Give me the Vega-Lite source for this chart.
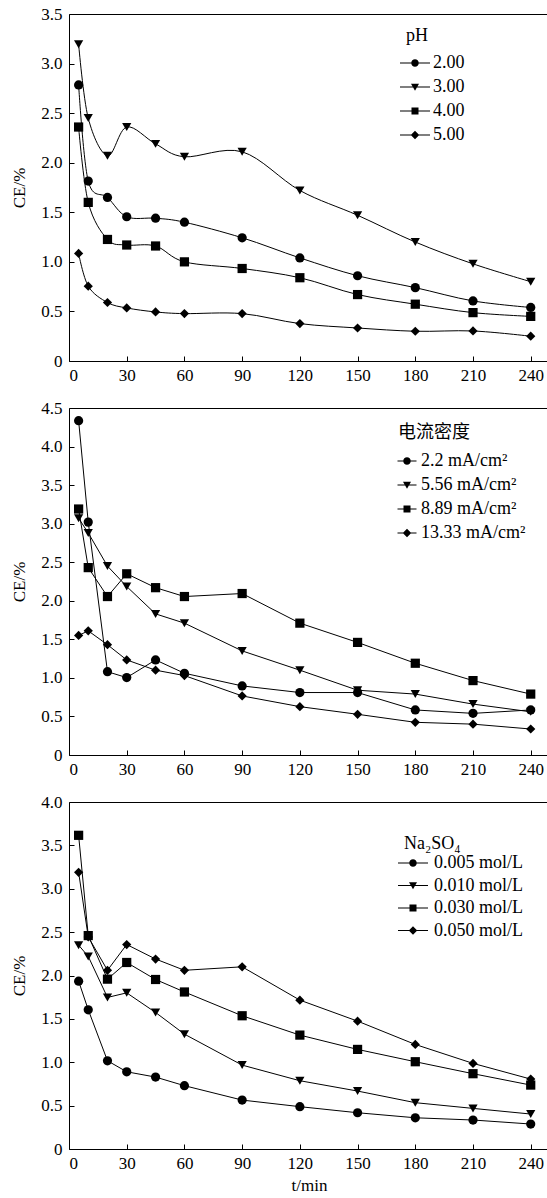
{
  "$schema": "https://vega.github.io/schema/vega-lite/v6.json",
  "padding": {"top": 4, "left": 10, "right": 0, "bottom": 0},
  "spacing": 47,
  "bounds": "flush",
  "resolve": {"scale": {"shape": "independent"}, "legend": {"shape": "independent"}},
  "datasets": {
    "p1": [
      {"t":5,"ce":2.785,"s":"2.00"},{"t":10,"ce":1.815,"s":"2.00"},{"t":20,"ce":1.65,"s":"2.00"},{"t":30,"ce":1.455,"s":"2.00"},{"t":45,"ce":1.44,"s":"2.00"},{"t":60,"ce":1.40,"s":"2.00"},{"t":90,"ce":1.243,"s":"2.00"},{"t":120,"ce":1.04,"s":"2.00"},{"t":150,"ce":0.86,"s":"2.00"},{"t":180,"ce":0.74,"s":"2.00"},{"t":210,"ce":0.606,"s":"2.00"},{"t":240,"ce":0.54,"s":"2.00"},
      {"t":5,"ce":3.196,"s":"3.00"},{"t":10,"ce":2.45,"s":"3.00"},{"t":20,"ce":2.07,"s":"3.00"},{"t":30,"ce":2.36,"s":"3.00"},{"t":45,"ce":2.19,"s":"3.00"},{"t":60,"ce":2.06,"s":"3.00"},{"t":90,"ce":2.11,"s":"3.00"},{"t":120,"ce":1.72,"s":"3.00"},{"t":150,"ce":1.47,"s":"3.00"},{"t":180,"ce":1.20,"s":"3.00"},{"t":210,"ce":0.98,"s":"3.00"},{"t":240,"ce":0.80,"s":"3.00"},
      {"t":5,"ce":2.36,"s":"4.00"},{"t":10,"ce":1.60,"s":"4.00"},{"t":20,"ce":1.226,"s":"4.00"},{"t":30,"ce":1.17,"s":"4.00"},{"t":45,"ce":1.16,"s":"4.00"},{"t":60,"ce":1.00,"s":"4.00"},{"t":90,"ce":0.933,"s":"4.00"},{"t":120,"ce":0.84,"s":"4.00"},{"t":150,"ce":0.67,"s":"4.00"},{"t":180,"ce":0.573,"s":"4.00"},{"t":210,"ce":0.488,"s":"4.00"},{"t":240,"ce":0.45,"s":"4.00"},
      {"t":5,"ce":1.085,"s":"5.00"},{"t":10,"ce":0.755,"s":"5.00"},{"t":20,"ce":0.59,"s":"5.00"},{"t":30,"ce":0.535,"s":"5.00"},{"t":45,"ce":0.495,"s":"5.00"},{"t":60,"ce":0.478,"s":"5.00"},{"t":90,"ce":0.478,"s":"5.00"},{"t":120,"ce":0.377,"s":"5.00"},{"t":150,"ce":0.333,"s":"5.00"},{"t":180,"ce":0.30,"s":"5.00"},{"t":210,"ce":0.303,"s":"5.00"},{"t":240,"ce":0.25,"s":"5.00"}
    ],
    "p2": [
      {"t":5,"ce":4.336,"s":"2.2 mA/cm²"},{"t":10,"ce":3.02,"s":"2.2 mA/cm²"},{"t":20,"ce":1.08,"s":"2.2 mA/cm²"},{"t":30,"ce":1.004,"s":"2.2 mA/cm²"},{"t":45,"ce":1.233,"s":"2.2 mA/cm²"},{"t":60,"ce":1.06,"s":"2.2 mA/cm²"},{"t":90,"ce":0.896,"s":"2.2 mA/cm²"},{"t":120,"ce":0.81,"s":"2.2 mA/cm²"},{"t":150,"ce":0.81,"s":"2.2 mA/cm²"},{"t":180,"ce":0.584,"s":"2.2 mA/cm²"},{"t":210,"ce":0.54,"s":"2.2 mA/cm²"},{"t":240,"ce":0.584,"s":"2.2 mA/cm²"},
      {"t":5,"ce":3.07,"s":"5.56 mA/cm²"},{"t":10,"ce":2.88,"s":"5.56 mA/cm²"},{"t":20,"ce":2.45,"s":"5.56 mA/cm²"},{"t":30,"ce":2.185,"s":"5.56 mA/cm²"},{"t":45,"ce":1.83,"s":"5.56 mA/cm²"},{"t":60,"ce":1.71,"s":"5.56 mA/cm²"},{"t":90,"ce":1.35,"s":"5.56 mA/cm²"},{"t":120,"ce":1.10,"s":"5.56 mA/cm²"},{"t":150,"ce":0.84,"s":"5.56 mA/cm²"},{"t":180,"ce":0.79,"s":"5.56 mA/cm²"},{"t":210,"ce":0.66,"s":"5.56 mA/cm²"},{"t":240,"ce":0.56,"s":"5.56 mA/cm²"},
      {"t":5,"ce":3.19,"s":"8.89 mA/cm²"},{"t":10,"ce":2.43,"s":"8.89 mA/cm²"},{"t":20,"ce":2.055,"s":"8.89 mA/cm²"},{"t":30,"ce":2.35,"s":"8.89 mA/cm²"},{"t":45,"ce":2.17,"s":"8.89 mA/cm²"},{"t":60,"ce":2.055,"s":"8.89 mA/cm²"},{"t":90,"ce":2.094,"s":"8.89 mA/cm²"},{"t":120,"ce":1.71,"s":"8.89 mA/cm²"},{"t":150,"ce":1.46,"s":"8.89 mA/cm²"},{"t":180,"ce":1.19,"s":"8.89 mA/cm²"},{"t":210,"ce":0.965,"s":"8.89 mA/cm²"},{"t":240,"ce":0.79,"s":"8.89 mA/cm²"},
      {"t":5,"ce":1.55,"s":"13.33 mA/cm²"},{"t":10,"ce":1.61,"s":"13.33 mA/cm²"},{"t":20,"ce":1.43,"s":"13.33 mA/cm²"},{"t":30,"ce":1.233,"s":"13.33 mA/cm²"},{"t":45,"ce":1.10,"s":"13.33 mA/cm²"},{"t":60,"ce":1.03,"s":"13.33 mA/cm²"},{"t":90,"ce":0.766,"s":"13.33 mA/cm²"},{"t":120,"ce":0.627,"s":"13.33 mA/cm²"},{"t":150,"ce":0.528,"s":"13.33 mA/cm²"},{"t":180,"ce":0.424,"s":"13.33 mA/cm²"},{"t":210,"ce":0.40,"s":"13.33 mA/cm²"},{"t":240,"ce":0.337,"s":"13.33 mA/cm²"}
    ],
    "p3": [
      {"t":5,"ce":1.935,"s":"0.005 mol/L"},{"t":10,"ce":1.605,"s":"0.005 mol/L"},{"t":20,"ce":1.017,"s":"0.005 mol/L"},{"t":30,"ce":0.89,"s":"0.005 mol/L"},{"t":45,"ce":0.829,"s":"0.005 mol/L"},{"t":60,"ce":0.73,"s":"0.005 mol/L"},{"t":90,"ce":0.564,"s":"0.005 mol/L"},{"t":120,"ce":0.488,"s":"0.005 mol/L"},{"t":150,"ce":0.418,"s":"0.005 mol/L"},{"t":180,"ce":0.36,"s":"0.005 mol/L"},{"t":210,"ce":0.334,"s":"0.005 mol/L"},{"t":240,"ce":0.288,"s":"0.005 mol/L"},
      {"t":5,"ce":2.35,"s":"0.010 mol/L"},{"t":10,"ce":2.22,"s":"0.010 mol/L"},{"t":20,"ce":1.747,"s":"0.010 mol/L"},{"t":30,"ce":1.80,"s":"0.010 mol/L"},{"t":45,"ce":1.574,"s":"0.010 mol/L"},{"t":60,"ce":1.324,"s":"0.010 mol/L"},{"t":90,"ce":0.967,"s":"0.010 mol/L"},{"t":120,"ce":0.787,"s":"0.010 mol/L"},{"t":150,"ce":0.668,"s":"0.010 mol/L"},{"t":180,"ce":0.534,"s":"0.010 mol/L"},{"t":210,"ce":0.468,"s":"0.010 mol/L"},{"t":240,"ce":0.403,"s":"0.010 mol/L"},
      {"t":5,"ce":3.616,"s":"0.030 mol/L"},{"t":10,"ce":2.46,"s":"0.030 mol/L"},{"t":20,"ce":1.958,"s":"0.030 mol/L"},{"t":30,"ce":2.15,"s":"0.030 mol/L"},{"t":45,"ce":1.954,"s":"0.030 mol/L"},{"t":60,"ce":1.81,"s":"0.030 mol/L"},{"t":90,"ce":1.536,"s":"0.030 mol/L"},{"t":120,"ce":1.313,"s":"0.030 mol/L"},{"t":150,"ce":1.148,"s":"0.030 mol/L"},{"t":180,"ce":1.006,"s":"0.030 mol/L"},{"t":210,"ce":0.868,"s":"0.030 mol/L"},{"t":240,"ce":0.737,"s":"0.030 mol/L"},
      {"t":5,"ce":3.19,"s":"0.050 mol/L"},{"t":10,"ce":2.445,"s":"0.050 mol/L"},{"t":20,"ce":2.06,"s":"0.050 mol/L"},{"t":30,"ce":2.357,"s":"0.050 mol/L"},{"t":45,"ce":2.19,"s":"0.050 mol/L"},{"t":60,"ce":2.06,"s":"0.050 mol/L"},{"t":90,"ce":2.10,"s":"0.050 mol/L"},{"t":120,"ce":1.716,"s":"0.050 mol/L"},{"t":150,"ce":1.474,"s":"0.050 mol/L"},{"t":180,"ce":1.205,"s":"0.050 mol/L"},{"t":210,"ce":0.987,"s":"0.050 mol/L"},{"t":240,"ce":0.806,"s":"0.050 mol/L"}
    ]
  },
  "vconcat": [
    {
      "width": 480, "height": 347,
      "data": {"name": "p1"},
      "encoding": {
        "x": {"field": "t", "type": "quantitative", "scale": {"domain": [0, 249.5], "nice": false, "zero": false},
              "axis": {"values": [0,30,60,90,120,150,180,210,240], "title": null}},
        "y": {"field": "ce", "type": "quantitative", "scale": {"domain": [0, 3.5], "nice": false},
              "axis": {"values": [0,0.5,1,1.5,2,2.5,3,3.5], "title": "CE/%", "labelExpr": "datum.value == 0 ? '0' : format(datum.value, '.1f')"}}
      },
      "layer": [
        {"mark": {"type": "line", "interpolate": "cardinal", "color": "black", "strokeWidth": 1}, "encoding": {"detail": {"field": "s"}}},
        {"transform": [{"filter": {"field": "s", "equal": "2.00"}}], "mark": {"type": "point", "shape": "circle", "filled": true, "color": "black", "opacity": 1, "size": 85}},
        {"transform": [{"filter": {"field": "s", "equal": "3.00"}}], "mark": {"type": "point", "shape": "triangle-down", "filled": true, "color": "black", "opacity": 1, "size": 85}},
        {"transform": [{"filter": {"field": "s", "equal": "4.00"}}], "mark": {"type": "point", "shape": "square", "filled": true, "color": "black", "opacity": 1, "size": 85}},
        {"transform": [{"filter": {"field": "s", "equal": "5.00"}}], "mark": {"type": "point", "shape": "diamond", "filled": true, "color": "black", "opacity": 1, "size": 85}},
        {"mark": {"type": "point", "filled": true, "color": "black", "opacity": 0},
         "encoding": {"shape": {"field": "s", "type": "nominal",
           "scale": {"domain": ["2.00","3.00","4.00","5.00"],
             "range": ["M-3,-0.1H3V0.1H-3ZM-0.75,0A0.75,0.75,0,1,1,0.75,0A0.75,0.75,0,1,1,-0.75,0Z","M-3,-0.1H3V0.1H-3ZM-0.8,-0.65L0.8,-0.65L0,0.75Z","M-3,-0.1H3V0.1H-3ZM-0.7,-0.7H0.7V0.7H-0.7Z","M-3,-0.1H3V0.1H-3ZM0,-0.85L0.85,0L0,0.85L-0.85,0Z"]},
           "legend": {"title": "pH", "orient": "none", "legendX": 337, "legendY": 13, "labelOffset": 9, "titlePadding": 9, "rowPadding": 6}}}}
      ]
    },
    {
      "width": 480, "height": 347,
      "data": {"name": "p2"},
      "encoding": {
        "x": {"field": "t", "type": "quantitative", "scale": {"domain": [0, 249.5], "nice": false, "zero": false},
              "axis": {"values": [0,30,60,90,120,150,180,210,240], "title": null}},
        "y": {"field": "ce", "type": "quantitative", "scale": {"domain": [0, 4.5], "nice": false},
              "axis": {"values": [0,0.5,1,1.5,2,2.5,3,3.5,4,4.5], "title": "CE/%", "labelExpr": "datum.value == 0 ? '0' : format(datum.value, '.1f')"}}
      },
      "layer": [
        {"mark": {"type": "line", "interpolate": "linear", "color": "black", "strokeWidth": 1}, "encoding": {"detail": {"field": "s"}}},
        {"transform": [{"filter": {"field": "s", "equal": "2.2 mA/cm²"}}], "mark": {"type": "point", "shape": "circle", "filled": true, "color": "black", "opacity": 1, "size": 85}},
        {"transform": [{"filter": {"field": "s", "equal": "5.56 mA/cm²"}}], "mark": {"type": "point", "shape": "triangle-down", "filled": true, "color": "black", "opacity": 1, "size": 85}},
        {"transform": [{"filter": {"field": "s", "equal": "8.89 mA/cm²"}}], "mark": {"type": "point", "shape": "square", "filled": true, "color": "black", "opacity": 1, "size": 85}},
        {"transform": [{"filter": {"field": "s", "equal": "13.33 mA/cm²"}}], "mark": {"type": "point", "shape": "diamond", "filled": true, "color": "black", "opacity": 1, "size": 85}},
        {"mark": {"type": "point", "filled": true, "color": "black", "opacity": 0},
         "encoding": {"shape": {"field": "s", "type": "nominal",
           "scale": {"domain": ["2.2 mA/cm²","5.56 mA/cm²","8.89 mA/cm²","13.33 mA/cm²"],
             "range": ["M-1.9,-0.1H1.9V0.1H-1.9ZM-0.75,0A0.75,0.75,0,1,1,0.75,0A0.75,0.75,0,1,1,-0.75,0Z","M-1.9,-0.1H1.9V0.1H-1.9ZM-0.8,-0.65L0.8,-0.65L0,0.75Z","M-1.9,-0.1H1.9V0.1H-1.9ZM-0.7,-0.7H0.7V0.7H-0.7Z","M-1.9,-0.1H1.9V0.1H-1.9ZM0,-0.85L0.85,0L0,0.85L-0.85,0Z"]},
           "legend": {"title": "\u00a0\u00a0电流密度", "orient": "none", "legendX": 329, "legendY": 16, "labelOffset": 5, "titlePadding": 10, "rowPadding": 6}}}}
      ]
    },
    {
      "width": 480, "height": 347,
      "data": {"name": "p3"},
      "encoding": {
        "x": {"field": "t", "type": "quantitative", "scale": {"domain": [0, 249.5], "nice": false, "zero": false},
              "axis": {"values": [0,30,60,90,120,150,180,210,240], "title": "t/min"}},
        "y": {"field": "ce", "type": "quantitative", "scale": {"domain": [0, 4.0], "nice": false},
              "axis": {"values": [0,0.5,1,1.5,2,2.5,3,3.5,4], "title": "CE/%", "labelExpr": "datum.value == 0 ? '0' : format(datum.value, '.1f')"}}
      },
      "layer": [
        {"mark": {"type": "line", "interpolate": "linear", "color": "black", "strokeWidth": 1}, "encoding": {"detail": {"field": "s"}}},
        {"transform": [{"filter": {"field": "s", "equal": "0.005 mol/L"}}], "mark": {"type": "point", "shape": "circle", "filled": true, "color": "black", "opacity": 1, "size": 85}},
        {"transform": [{"filter": {"field": "s", "equal": "0.010 mol/L"}}], "mark": {"type": "point", "shape": "triangle-down", "filled": true, "color": "black", "opacity": 1, "size": 85}},
        {"transform": [{"filter": {"field": "s", "equal": "0.030 mol/L"}}], "mark": {"type": "point", "shape": "square", "filled": true, "color": "black", "opacity": 1, "size": 85}},
        {"transform": [{"filter": {"field": "s", "equal": "0.050 mol/L"}}], "mark": {"type": "point", "shape": "diamond", "filled": true, "color": "black", "opacity": 1, "size": 85}},
        {"mark": {"type": "point", "filled": true, "color": "black", "opacity": 0},
         "encoding": {"shape": {"field": "s", "type": "nominal",
           "scale": {"domain": ["0.005 mol/L","0.010 mol/L","0.030 mol/L","0.050 mol/L"],
             "range": ["M-3,-0.1H3V0.1H-3ZM-0.75,0A0.75,0.75,0,1,1,0.75,0A0.75,0.75,0,1,1,-0.75,0Z","M-3,-0.1H3V0.1H-3ZM-0.8,-0.65L0.8,-0.65L0,0.75Z","M-3,-0.1H3V0.1H-3ZM-0.7,-0.7H0.7V0.7H-0.7Z","M-3,-0.1H3V0.1H-3ZM0,-0.85L0.85,0L0,0.85L-0.85,0Z"]},
           "legend": {"title": "\u00a0\u00a0\u00a0\u00a0Na₂SO₄", "orient": "none", "legendX": 335, "legendY": 33, "labelOffset": 12, "titlePadding": 1, "rowPadding": 4.5}}}}
      ]
    }
  ],
  "config": {
    "font": "Liberation Serif",
    "view": {"stroke": "black", "strokeWidth": 1},
    "axis": {
      "grid": false, "domain": false,
      "labelFont": "Liberation Serif", "labelFontSize": 17, "labelColor": "black",
      "titleFont": "Liberation Serif", "titleFontSize": 17, "titleFontWeight": "normal", "titleColor": "black",
      "tickColor": "black", "tickSize": -5, "tickWidth": 1
    },
    "axisY": {"labelPadding": 12, "titlePadding": 12},
    "axisX": {"labelPadding": 11, "titlePadding": 6},
    "legend": {
      "padding": 0,
      "titleFont": "Liberation Serif, Noto Sans CJK SC", "titleFontSize": 18, "titleFontWeight": "normal", "titleColor": "black",
      "labelFont": "Liberation Serif", "labelFontSize": 18, "labelColor": "black",
      "symbolSize": 100, "symbolFillColor": "black", "symbolStrokeColor": "black", "symbolStrokeWidth": 1, "symbolOpacity": 1
    }
  }
}
